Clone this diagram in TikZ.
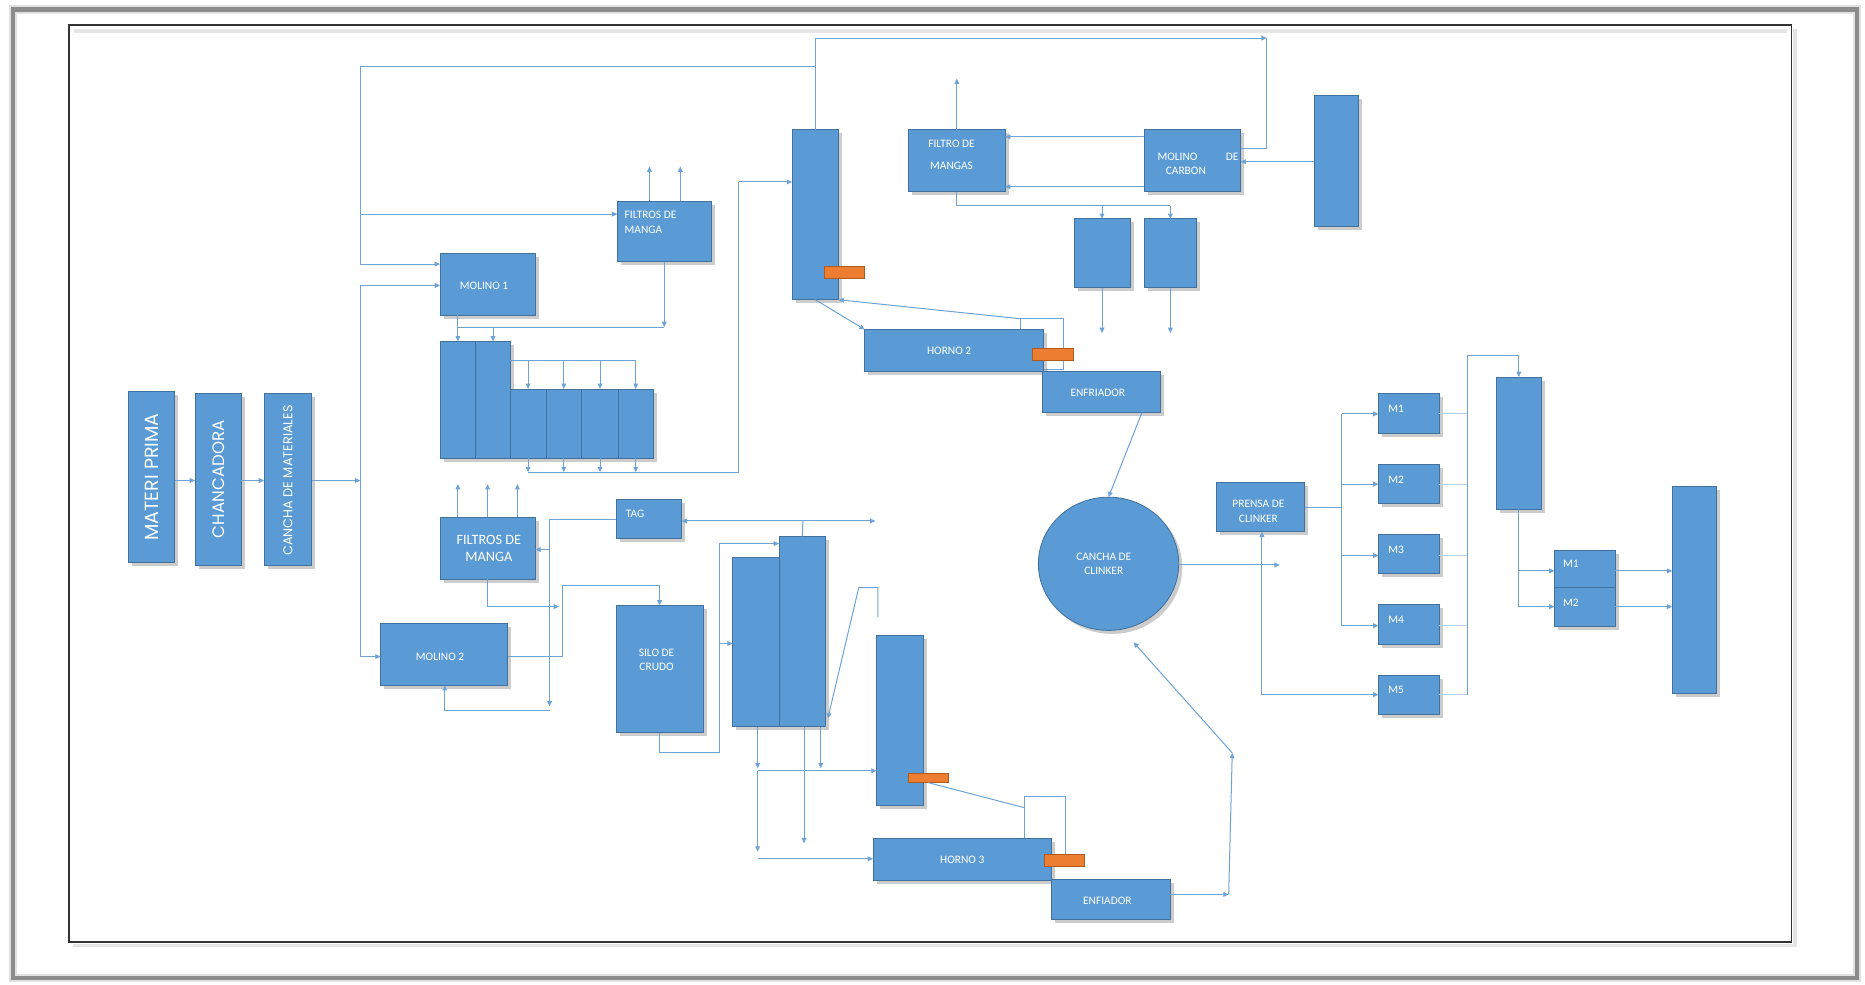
\documentclass[tikz,border=0pt]{standalone}
\usepackage{fontspec}
\setmainfont{Carlito}
\newfontfamily\gothic{Poppins}
\usetikzlibrary{arrows.meta,shadows,shapes.geometric}
\definecolor{bl}{HTML}{5B9BD5}
\definecolor{bd}{HTML}{41719C}
\definecolor{lc}{HTML}{6FA3D8}
\definecolor{lcf}{HTML}{B4D0EC}
\definecolor{org}{HTML}{ED7D31}
\definecolor{od}{HTML}{AE5A21}
\begin{document}
\begin{tikzpicture}[x=1pt,y=-1pt,
  box/.style={draw=bd, fill=bl, line width=0.7pt, inner sep=0pt, outer sep=0pt,
    drop shadow={shadow xshift=3pt, shadow yshift=-3pt, opacity=0.4}},
  obox/.style={draw=od, fill=org, line width=0.6pt, inner sep=0pt, outer sep=0pt},
  wbox/.style={draw=lc, fill=white, line width=0.9pt, inner sep=0pt, outer sep=0pt},
  ln/.style={draw=lc, line width=0.85pt},
  lnf/.style={draw=lcf, line width=0.9pt},
  arr/.style={ln, -{Triangle[length=4.5pt,width=4pt]}},
  lbl/.style={text=white, font=\fontsize{9.6}{12}\selectfont, inner sep=0pt},
  big/.style={text=white, rotate=90, inner sep=0pt, font=\gothic\fontsize{14}{16}\selectfont},
]
\useasboundingbox (0,0) rectangle (1568,828);
% frames
\draw[line width=7pt, black!12] (11,8) rectangle (1561,822);
\draw[line width=3.5pt, black!45] (11,8) rectangle (1561,822);
\draw[line width=3pt, black!10] (62,26) -- (1502,26);
\draw[line width=3pt, black!10] (61,795) -- (1509,795) -- (1509,24);
\draw[line width=1.1pt, black!80] (58,21) rectangle (1506,792);

% ---------- boxes ----------
\node[box, minimum width=39pt, minimum height=144pt] (mp) at (127.5,401) {};
\node[big, font=\gothic\fontsize{16}{18}\selectfont] (mpt) at (mp.center) {MATERI PRIMA};
\node[box, minimum width=39pt, minimum height=144pt] (ch) at (183.5,403) {};
\node[big] (cht) at (ch.center) {CHANCADORA};
\node[box, minimum width=40pt, minimum height=144pt] (cm) at (242,403) {};
\node[big, font=\gothic\fontsize{10.8}{12}\selectfont] (cmt) at (242,404) {CANCHA DE MATERIALES};

\node[box, minimum width=80pt, minimum height=52pt] (m1) at (410,239) {};
\node[lbl] (m1t) at (407,240) {MOLINO 1};
\node[box, minimum width=79pt, minimum height=51pt] (fm1) at (558.5,194.5) {};
\node[lbl, anchor=west] (fm1a) at (525,181) {FILTROS DE};
\node[lbl, anchor=west] (fm1b) at (525,193) {MANGA};

\node[box, minimum width=30pt, minimum height=98pt] (s1) at (385,336) {};
\node[box, minimum width=29pt, minimum height=98pt] (s2) at (414.5,336) {};
\node[box, minimum width=30pt, minimum height=58pt] (s3) at (444,356) {};
\node[box, minimum width=30pt, minimum height=58pt] (s4) at (474,356) {};
\node[box, minimum width=31pt, minimum height=58pt] (s5) at (504.5,356) {};
\node[box, minimum width=29pt, minimum height=58pt] (s6) at (534.5,356) {};

\node[box, minimum width=80pt, minimum height=52pt] (fm2) at (410,461) {};
\node[lbl, align=center, font=\fontsize{12}{14}\selectfont] (fm2t) at (411,461) {FILTROS DE\\MANGA};
\node[box, minimum width=55pt, minimum height=33pt] (tag) at (545.5,436.5) {};
\node[lbl, anchor=west] (tagt) at (526,432) {TAG};
\node[box, minimum width=107pt, minimum height=52pt] (m2) at (373.5,550) {};
\node[lbl] (m2t) at (370,552) {MOLINO 2};
\node[box, minimum width=73pt, minimum height=107pt] (silo) at (554.5,562.5) {};
\node[lbl, align=center] (silot) at (552,555) {SILO DE\\CRUDO};

\node[box, minimum width=39pt, minimum height=142pt] (t3a) at (635.5,540) {};
\node[box, minimum width=39pt, minimum height=160pt] (t3b) at (674.5,531) {};
\node[box, minimum width=39pt, minimum height=143pt] (c3) at (756.5,605.5) {};
\node[obox, minimum width=33pt, minimum height=8pt] (o3a) at (780.5,654) {};
\node[wbox, minimum width=35pt, minimum height=52pt] (wb3) at (878.5,696) {};
\node[box, minimum width=150pt, minimum height=35pt] (h3) at (809,722.5) {};
\node[lbl] (h3t) at (809,723) {HORNO 3};
\node[box, minimum width=100pt, minimum height=34pt] (en3) at (934,756) {};
\node[lbl] (en3t) at (931,757) {ENFIADOR};
\node[obox, minimum width=34pt, minimum height=10pt] (o3b) at (895,723) {};

\node[box, minimum width=39pt, minimum height=143pt] (t2) at (685.5,180.5) {};
\node[obox, minimum width=34pt, minimum height=10pt] (o2a) at (710,229) {};
\node[box, minimum width=81pt, minimum height=52pt] (fmg) at (804.5,135) {};
\node[lbl] (fmga) at (800,121) {FILTRO DE};
\node[lbl] (fmgb) at (800,139) {MANGAS};
\node[box, minimum width=81pt, minimum height=52pt] (mc) at (1002.5,135) {};
\node[lbl] (mca) at (990,132) {MOLINO};
\node[lbl] (mcb) at (1036,132) {DE};
\node[lbl] (mcc) at (997,144) {CARBON};
\node[box, minimum width=37pt, minimum height=110pt] (rb) at (1123.5,135) {};
\node[box, minimum width=47pt, minimum height=58pt] (ba) at (926.5,213) {};
\node[box, minimum width=44pt, minimum height=58pt] (bb) at (984,213) {};
\node[wbox, minimum width=36pt, minimum height=43pt] (wb2) at (876,289.5) {};
\node[box, minimum width=150pt, minimum height=35pt] (h2) at (802,294.5) {};
\node[lbl] (h2t) at (798,295) {HORNO 2};
\node[box, minimum width=100pt, minimum height=35pt] (en2) at (926,329.5) {};
\node[lbl] (en2t) at (923,330) {ENFRIADOR};
\node[obox, minimum width=34pt, minimum height=10pt] (o2b) at (885,298) {};

\node[box, ellipse, minimum width=118pt, minimum height=112pt] (cc) at (932,474) {};
\node[lbl, align=center] (cct) at (928,474) {CANCHA DE\\CLINKER};
\node[box, minimum width=74pt, minimum height=41pt] (pc) at (1060,426.5) {};
\node[lbl, align=center] (pct) at (1058,430) {PRENSA DE\\CLINKER};

\node[box, minimum width=51pt, minimum height=33pt] (mb1) at (1184.5,347.5) {};
\node[box, minimum width=51pt, minimum height=33pt] (mb2) at (1184.5,407) {};
\node[box, minimum width=51pt, minimum height=33pt] (mb3) at (1184.5,466) {};
\node[box, minimum width=51pt, minimum height=33pt] (mb4) at (1184.5,525) {};
\node[box, minimum width=51pt, minimum height=33pt] (mb5) at (1184.5,584.5) {};
\node[lbl, anchor=west] (mb1t) at (1167,344) {M1};
\node[lbl, anchor=west] (mb2t) at (1167,403) {M2};
\node[lbl, anchor=west] (mb3t) at (1167,462) {M3};
\node[lbl, anchor=west] (mb4t) at (1167,521) {M4};
\node[lbl, anchor=west] (mb5t) at (1167,580) {M5};
\node[box, minimum width=38pt, minimum height=111pt] (cs) at (1277,372.5) {};
\node[box, minimum width=51pt, minimum height=31pt] (mm1) at (1332.5,478.5) {};
\node[box, minimum width=51pt, minimum height=33pt] (mm2) at (1332.5,510.5) {};
\node[lbl, anchor=west] (mm1t) at (1314,474) {M1};
\node[lbl, anchor=west] (mm2t) at (1314,507) {M2};
\node[box, minimum width=37pt, minimum height=174pt] (bg) at (1424.5,496) {};

% ---------- connectors ----------
\draw[arr] (mp.east |- 0,404) -- (ch.west |- 0,404);
\draw[arr] (ch.east |- 0,404) -- (cm.west |- 0,404);
\coordinate (v1) at (303,404);
\coordinate (v1t) at (303,240);
\coordinate (v1b) at (303,552);
\draw[arr] (cm.east |- v1) -- (v1);
\draw[ln] (v1t) -- (v1b);
\draw[arr] (v1t) -- (m1.west |- v1t);
\draw[arr] (v1b) -- (m2.west |- v1b);

\coordinate (lpa) at (303,56);
\coordinate (lpb) at (303,222);
\coordinate (lpc) at (303,180);
\draw[ln] (lpa) -- (t2.north |- lpa);
\draw[ln] (lpa) -- (lpb);
\draw[arr] (lpb) -- (m1.west |- lpb);
\draw[arr] (lpc) -- (fm1.west |- lpc);
\coordinate (tr) at (1065,32);
\draw[arr] (t2.north) |- (tr);
\draw[ln] (tr) |- (mc.east |- 0,125);

\draw[arr] (fm1.north -| 546,0) -- (546,140);
\draw[arr] (fm1.north -| 572,0) -- (572,140);
\coordinate (h1) at (385,275);
\coordinate (h1e) at (558.5,275);
\draw[arr] (fm1.south) -- (h1e);
\draw[ln] (m1.south -| h1) -- (h1) -- (h1e);
\draw[arr] (h1) -- (s1.north);
\draw[arr] (s2.north |- h1) -- (s2.north);
\coordinate (h2l) at (429,303);
\coordinate (h2r) at (534.5,303);
\draw[ln] (h2l) -- (h2r);
\foreach \s in {s3,s4,s5,s6} \draw[arr] (\s.north |- h2l) -- (\s.north);
\coordinate (h3l) at (444,397);
\coordinate (h3r) at (621,397);
\coordinate (h3u) at (621,153);
\draw[ln] (h3l) -- (h3r) -- (h3u);
\draw[arr] (h3u) -- (t2.west |- h3u);
\foreach \s in {s3,s4,s5,s6} \draw[arr] (\s.south) -- (\s.south |- 0,397);

\foreach \x in {385,410,435} \draw[arr] (fm2.north -| \x,0) -- (\x,407);
\coordinate (tg1) at (462,437);
\coordinate (tg2) at (462,594);
\coordinate (tg3) at (462,597);
\coordinate (tg4) at (374,597);
\draw[arr] (tag.west |- tg1) -- (tg1) -- (tg2);
\draw[arr] (tg3) -- (tg4) -- (m2.south -| tg4);
\draw[arr] (462,462) -- (fm2.east |- 0,462);
\draw[arr] (fm2.south) -- (410,510) -- (470,510);

\draw[arr] (m2.east |- 0,552) -- (473,552) -- (473,492) -| (silo.north);
\coordinate (sb) at (605,633);
\draw[arr] (silo.south) |- (sb) -- (605,457) -- (t3b.west |- 0,457);
\draw[arr] (605,541) -- (t3a.west |- 0,541);
\coordinate (tt) at (675,438);
\draw[ln] (t3b.north) -- (tt);
\draw[arr] (tt) -- (tag.east |- tt);
\draw[arr] (tt) -- (736,438);
\draw[arr] (738,519) -- (738,494) -- (722,494) -- (696,604);

\coordinate (ja) at (637,648);
\draw[arr] (t3a.south -| ja) -- (637,646);
\draw[arr] (ja) -- (c3.west |- ja);
\draw[arr] (ja) -- (637,716);
\draw[arr] (637,722) -- (h3.west |- 0,722);
\draw[arr] (t3b.south -| 676,0) -- (676,709);
\draw[arr] (t3b.south -| 690,0) -- (690,646);
\draw[ln] (o3a.south) -- (wb3.west |- 0,679);

\coordinate (eb) at (1033,752);
\coordinate (eu) at (1036,633);
\draw[arr] (en3.east |- eb) -- (eb);
\draw[arr] (eb) -- (eu);
\draw[arr] (eu) -- (953,540);

\draw[arr] (t2.south) -- (h2.north west);
\draw[arr] (wb2.north west) -- (t2.south east);
\draw[arr] (fmg.north) -- (804.5,66);
\draw[arr] (mc.west |- 0,115) -- (fmg.east |- 0,115);
\draw[arr] (mc.west |- 0,157) -- (fmg.east |- 0,157);
\draw[arr] (rb.west |- 0,136) -- (mc.east |- 0,136);
\coordinate (fb) at (984,173);
\draw[ln] (fmg.south) |- (fb);
\draw[arr] (ba.north |- fb) -- (ba.north);
\draw[arr] (fb) -- (bb.north);
\draw[arr] (ba.south) -- (926.5,280);
\draw[arr] (bb.south) -- (984,280);

\draw[arr] (en2.south -| 960,0) -- (cc.north);
\draw[arr] (cc.east |- 0,475) -- (1076,475);
\coordinate (pj) at (1061,584);
\draw[arr] (pj) -- (pc.south -| pj);
\draw[arr] (pj) -- (mb5.west |- pj);
\coordinate (pb) at (1128,427);
\draw[ln] (pc.east |- pb) -- (pb);
\draw[ln] (1128,348) -- (1128,526);
\foreach \m/\y in {mb1/348,mb2/407,mb3/467,mb4/526} \draw[arr] (1128,\y) -- (\m.west |- 0,\y);
\foreach \m/\y in {mb1/348,mb2/407,mb3/467,mb4/526,mb5/584} \draw[lnf] (\m.east |- 0,\y) -- (1234,\y);
\draw[arr] (1234,584) -- (1234,299) -| (cs.north);
\draw[ln] (cs.south) -- (1277,510);
\draw[arr] (1277,480) -- (mm1.west |- 0,480);
\draw[arr] (1277,510) -- (mm2.west |- 0,510);
\draw[arr] (mm1.east |- 0,480) -- (bg.west |- 0,480);
\draw[arr] (mm2.east |- 0,510) -- (bg.west |- 0,510);
\end{tikzpicture}
\end{document}
